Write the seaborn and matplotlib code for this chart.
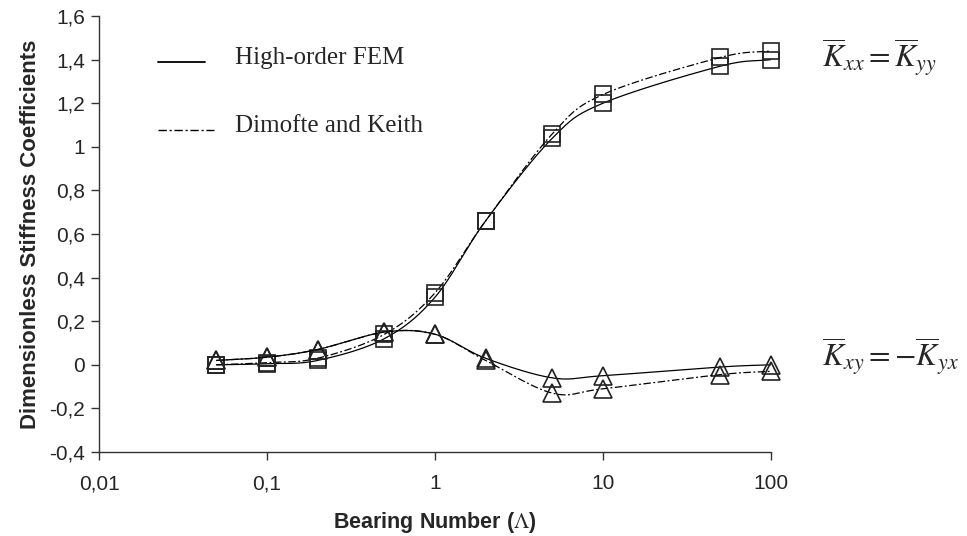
import numpy as np
import pandas as pd
import matplotlib
matplotlib.use("Agg")
import matplotlib.pyplot as plt
import seaborn as sns
from matplotlib.lines import Line2D

# ---- data ----
bearing_number = [0.05, 0.1, 0.2, 0.5, 1, 2, 5, 10, 50, 100]
kxx_fem = [0.00, 0.005, 0.02, 0.12, 0.31, 0.66, 1.04, 1.20, 1.37, 1.40]
kxx_dk = [0.00, 0.01, 0.03, 0.14, 0.33, 0.66, 1.06, 1.24, 1.41, 1.44]
kxy_fem = [0.02, 0.035, 0.07, 0.15, 0.14, 0.03, -0.06, -0.05, -0.01, 0.00]
kxy_dk = [0.02, 0.035, 0.07, 0.15, 0.14, 0.02, -0.13, -0.11, -0.045, -0.03]
x_ticks = [0.01, 0.1, 1, 10, 100]
x_tick_labels = ["0,01", "0,1", "1", "10", "100"]
y_ticks = [-0.4, -0.2, 0, 0.2, 0.4, 0.6, 0.8, 1.0, 1.2, 1.4, 1.6]
y_tick_labels = ["-0,4", "-0,2", "0", "0,2", "0,4", "0,6", "0,8", "1", "1,2", "1,4", "1,6"]
legend_labels = ["High-order FEM", "Dimofte and Keith"]

sns.set_style("ticks")
plt.rcParams["font.family"] = ["Liberation Sans", "DejaVu Sans"]
plt.rcParams["mathtext.fontset"] = "stix"

DASHDOT = (0, (6, 2, 1.5, 2))


def smooth(xs, ys, n=30):
    """Catmull-Rom rendering of a line through the data (log-x, screen-like units)."""
    u = np.log10(np.asarray(xs, float)) * 168.0
    v = np.asarray(ys, float) * 218.0
    P = np.column_stack([u, v])
    P = np.vstack([P[0] - (P[1] - P[0]), P, P[-1] + (P[-1] - P[-2])])
    out = []
    t = np.linspace(0, 1, n, endpoint=False)
    for i in range(1, len(P) - 2):
        p0, p1, p2, p3 = P[i - 1], P[i], P[i + 1], P[i + 2]
        tt = t[:, None]
        seg = 0.5 * ((2 * p1) + (-p0 + p2) * tt + (2 * p0 - 5 * p1 + 4 * p2 - p3) * tt ** 2
                     + (-p0 + 3 * p1 - 3 * p2 + p3) * tt ** 3)
        out.append(seg)
    out.append(P[-2][None, :])
    S = np.vstack(out)
    return 10 ** (S[:, 0] / 168.0), S[:, 1] / 218.0


W, H = 967, 536
fig = plt.figure(figsize=(W / 100, H / 100), dpi=100)
ax = fig.add_axes([99 / W, 1 - 452 / H, (771 - 99) / W, (452 - 16) / H])

series = [
    (kxx_fem, "-", "s"),
    (kxx_dk, DASHDOT, "s"),
    (kxy_fem, "-", "^"),
    (kxy_dk, DASHDOT, "^"),
]
for vals, ls, mk in series:
    sx, sy = smooth(bearing_number, vals)
    sns.lineplot(x=sx, y=sy, ax=ax, color="black", lw=0.9, linestyle=ls, sort=False,
                 estimator=None)
    ax.plot(bearing_number, vals, linestyle="none", marker=mk,
            markersize=12 if mk == "s" else 13, clip_on=False,
            markerfacecolor="none", markeredgecolor="#222222", markeredgewidth=1.2)

ax.set_xscale("log")
ax.set_xlim(0.01, 100)
ax.set_ylim(-0.4, 1.6)
ax.set_xticks(x_ticks)
ax.set_xticklabels(x_tick_labels)
ax.minorticks_off()
ax.set_yticks(y_ticks)
ax.set_yticklabels(y_tick_labels)
ax.tick_params(axis="both", labelsize=15, length=6, width=1, color="#333333",
               direction="out", pad=4)
ax.tick_params(axis="x", pad=10)
for s in ["top", "right"]:
    ax.spines[s].set_visible(False)
for s in ["left", "bottom"]:
    ax.spines[s].set_color("#333333")
    ax.spines[s].set_linewidth(1)

ax.set_ylabel("Dimensionless Stiffness Coefficients", fontsize=16, fontweight="bold", labelpad=6)
ax.set_xlabel(r"Bearing Number ($\Lambda$)", fontsize=15.5, fontweight="bold", labelpad=12)

# legend (manual, no frame)
leg_y = [62, 130]
leg_styles = ["-", DASHDOT]
leg_x1 = [205, 214]
for yy, ls, x1, lab in zip(leg_y, leg_styles, leg_x1, legend_labels):
    fig.add_artist(Line2D([158 / W, x1 / W], [1 - yy / H, 1 - yy / H], color="black",
                          lw=1.3 if ls == "-" else 1.0, linestyle=ls,
                          transform=fig.transFigure))
    fig.text(235 / W, 1 - (yy - 4) / H, lab, family="Liberation Serif", fontsize=18,
             ha="left", va="center")

fig.text(822 / W, 1 - 58 / H, r"$\overline{K}_{xx}=\overline{K}_{yy}$", fontsize=22.5,
         ha="left", va="center")
fig.text(822 / W, 1 - 357 / H, r"$\overline{K}_{xy}=-\overline{K}_{yx}$", fontsize=22.5,
         ha="left", va="center")

fig.savefig("out.png", dpi=100)
